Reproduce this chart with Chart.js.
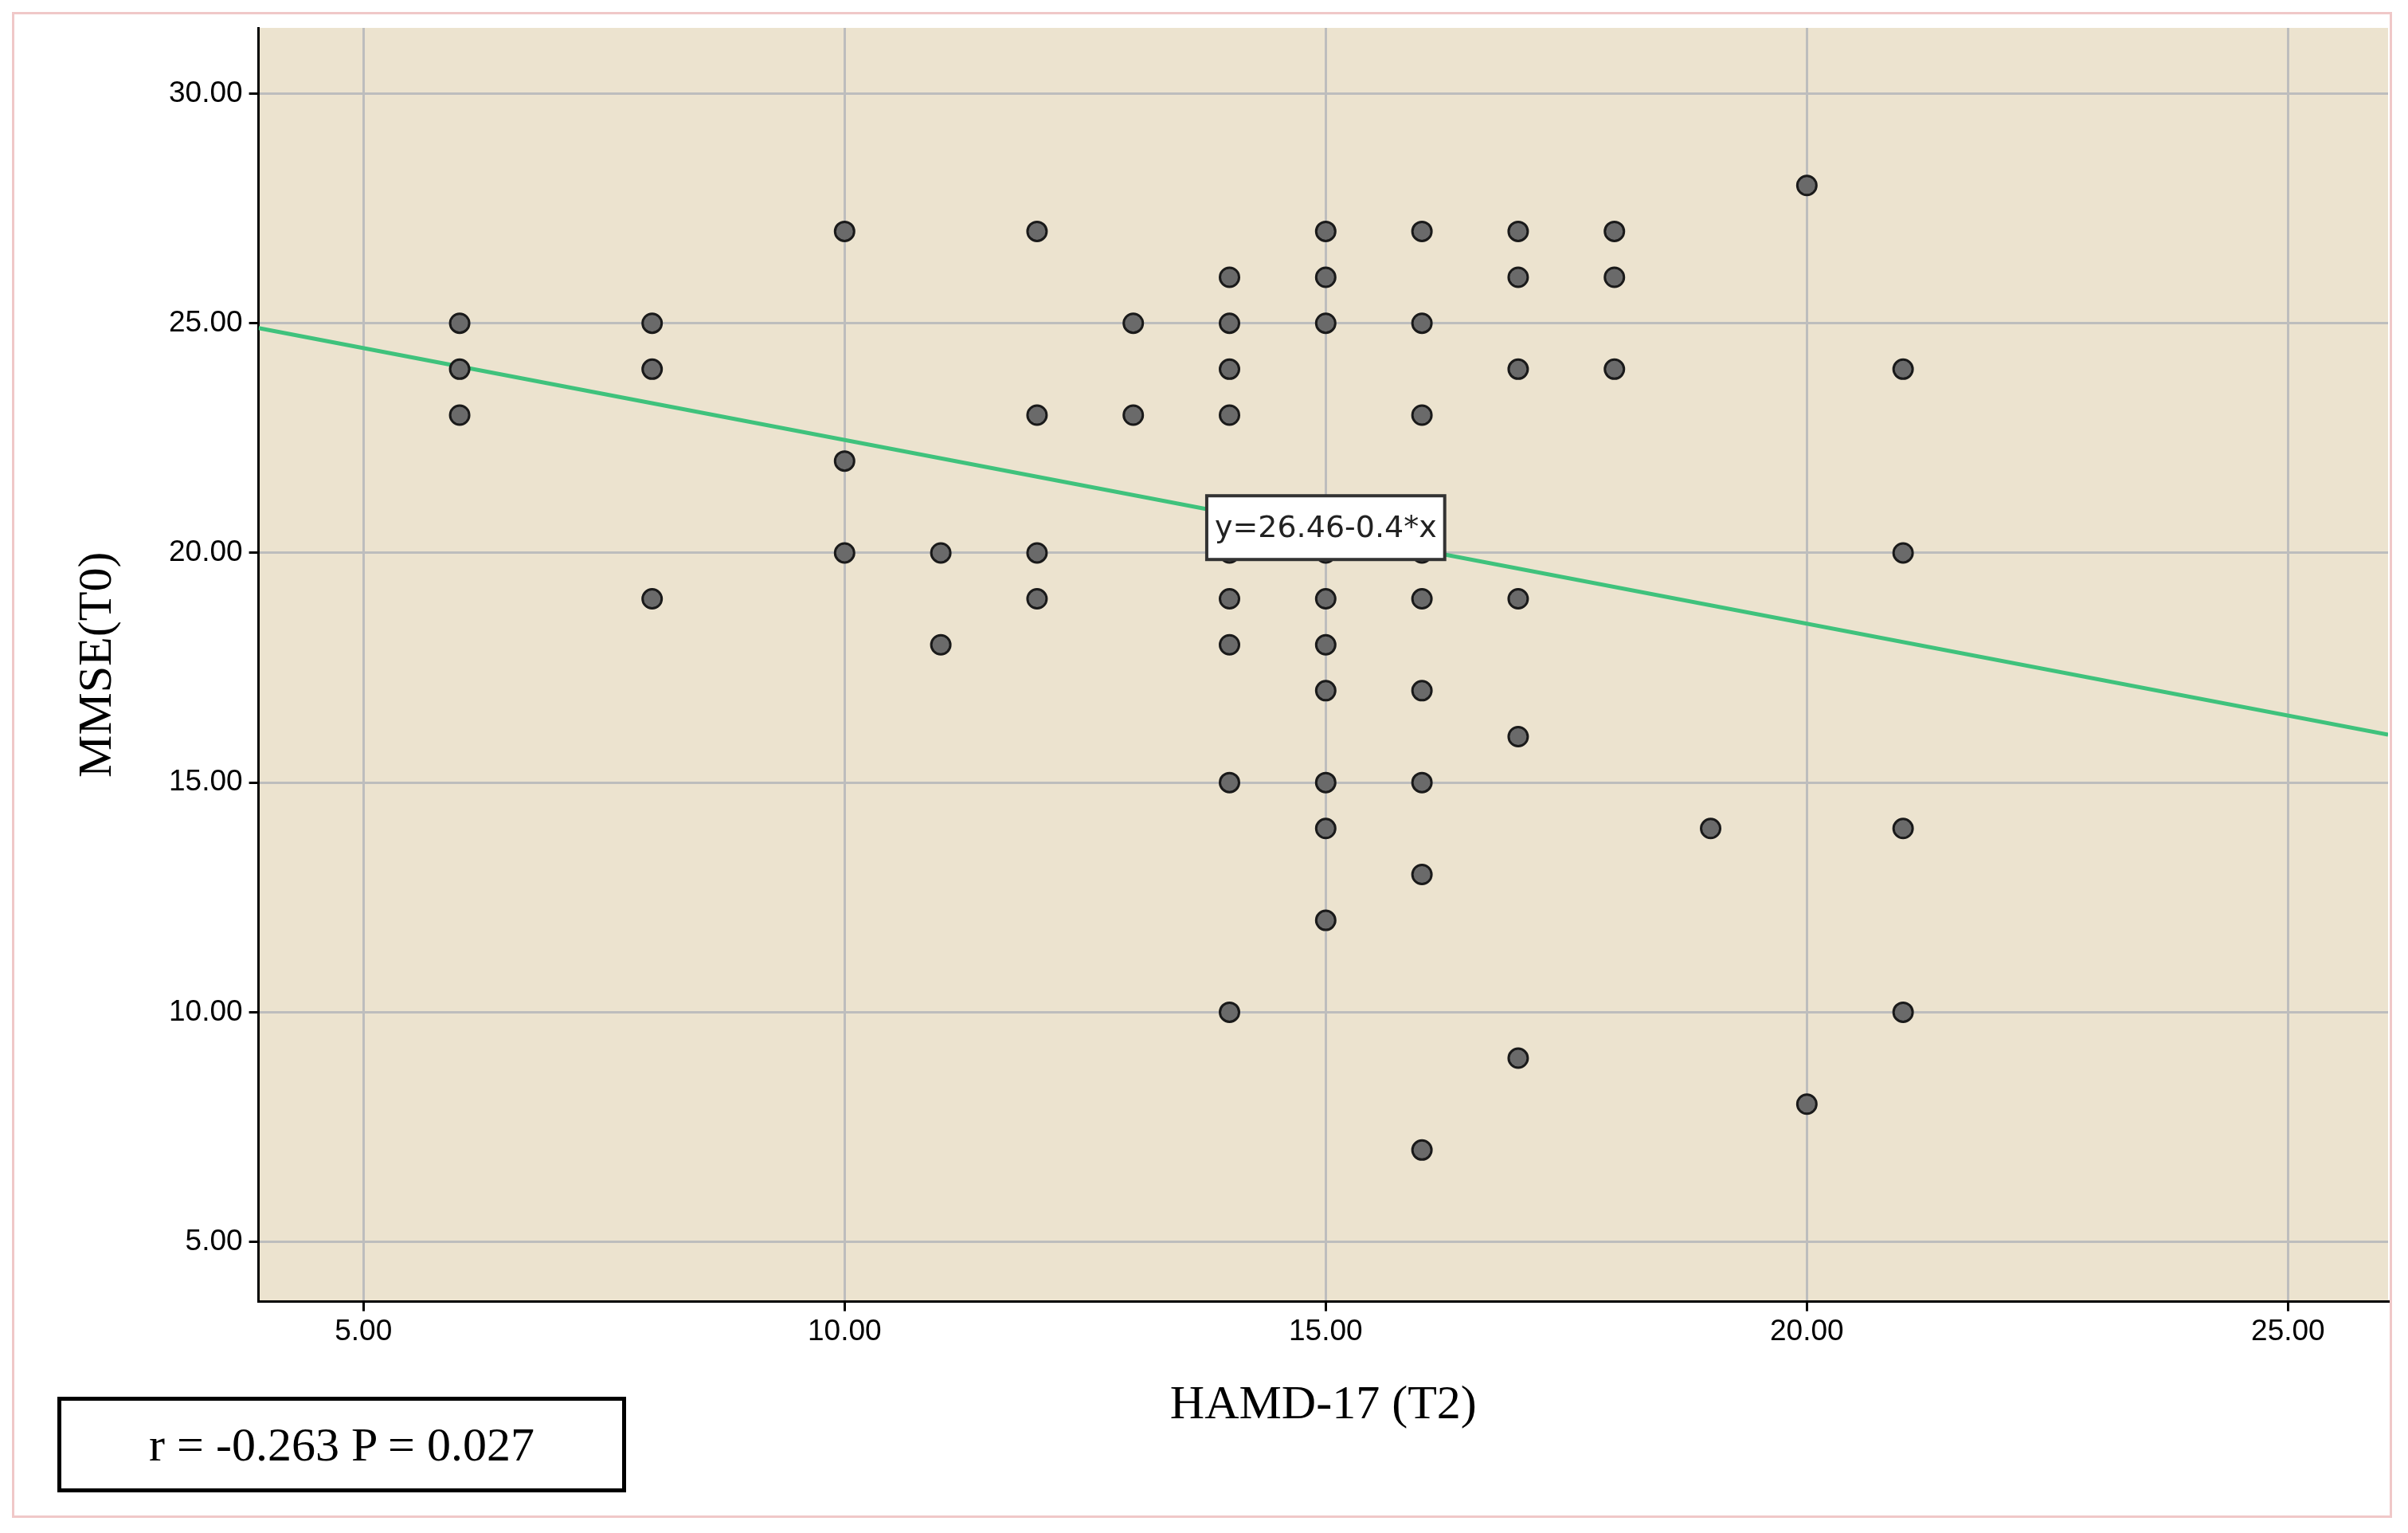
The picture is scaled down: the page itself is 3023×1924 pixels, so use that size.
<!DOCTYPE html>
<html><head><meta charset="utf-8">
<script src="https://cdn.jsdelivr.net/npm/chart.js@4/dist/chart.umd.min.js"></script>
<style>
html,body{margin:0;padding:0;background:#fff;}
#wrap{position:absolute;left:0;top:0;width:3023px;height:1924px;}
#frame{position:absolute;left:15px;top:15px;width:2988px;height:1890px;border:3px solid #f0c8c8;box-sizing:border-box;}
#rbox{position:absolute;left:72px;top:1753px;width:714px;height:120px;border:5px solid #000;box-sizing:border-box;font-family:"Liberation Serif","DejaVu Serif",serif;font-size:60px;line-height:110px;text-align:center;color:#000;}
</style></head>
<body><div id="wrap"><div id="frame"></div><canvas id="c" width="3023" height="1924"></canvas><div id="rbox">r = -0.263 P = 0.027</div></div>
<script>
const hamd = [6,6,6, 8,8,8, 10,10,10, 11,11, 12,12,12,12, 13,13,
 14,14,14,14,14,14,14,14,14,14,
 15,15,15,15,15,15,15,15,15,15,15,
 16,16,16,16,16,16,16,16,16,16,
 17,17,17,17,17,17, 18,18,18, 19, 20,20, 21,21,21,21];
const mmse = [25,24,23, 25,24,19, 27,22,20, 20,18, 27,23,20,19, 25,23,
 26,25,24,23,21,20,19,18,15,10,
 27,26,25,21,20,19,18,17,15,14,12,
 27,25,23,21,20,19,17,15,13,7,
 27,26,24,19,16,9, 27,26,24, 14, 28,8, 24,20,14,10];
const xTickVals = [5,10,15,20,25];
const yTickVals = [5,10,15,20,25,30];
const fitIntercept = 26.46, fitSlope = -0.4;
const xMin = 3.91, xMax = 26.04, yMin = 3.7, yMax = 31.43;
const fitLabel = "y=26.46-0.4*x";
const points = hamd.map((x,i)=>({x:x,y:mmse[i]}));
const fitLine = [xMin,xMax].map(x=>({x:x,y:fitIntercept+fitSlope*x}));

const bgPlugin = {id:'bg',beforeDraw(ch){const a=ch.chartArea,c=ch.ctx;c.save();c.fillStyle='#ece3cf';c.fillRect(a.left,a.top,a.right-a.left,a.bottom-a.top);c.restore();}};
const labelPlugin = {id:'lbl',afterDraw(ch){const c=ch.ctx;const px=ch.scales.x.getPixelForValue(15),py=ch.scales.y.getPixelForValue(20.55);
 c.save();c.font='38px "DejaVu Sans", sans-serif';const w=c.measureText(fitLabel).width+20,h=80;
 c.fillStyle='#fff';c.fillRect(px-w/2,py-h/2,w,h);c.strokeStyle='#333';c.lineWidth=4;c.strokeRect(px-w/2,py-h/2,w,h);
 c.fillStyle='#222';c.textAlign='center';c.textBaseline='middle';c.fillText(fitLabel,px,py+2);c.restore();}};
new Chart(document.getElementById('c'),{
 type:'scatter',
 data:{datasets:[
  {data:fitLine,type:'line',borderColor:'#3fc27c',borderWidth:5,pointRadius:0,order:2},
  {data:points,backgroundColor:'#6a6a6a',borderColor:'#1a1a1a',borderWidth:3,pointRadius:12,order:1}
 ]},
 options:{responsive:false,animation:false,
  layout:{padding:{left:83,top:35,right:25,bottom:120}},
  plugins:{legend:{display:false},tooltip:{enabled:false}},
  scales:{
   x:{type:'linear',min:xMin,max:xMax,afterBuildTicks:s=>{s.ticks=xTickVals.map(v=>({value:v}));},
     grid:{color:'#bdbdbd',lineWidth:3,drawTicks:true,tickLength:12,tickColor:'#000'},border:{color:'#000',width:3},
     ticks:{autoSkip:false,color:'#000',font:{size:37,family:'Arial, "Liberation Sans", sans-serif'},callback:v=>v.toFixed(2),padding:4},
     title:{display:true,text:'HAMD-17 (T2)',color:'#000',font:{size:60,family:'"Liberation Serif", serif'},padding:{top:30}}},
   y:{type:'linear',min:yMin,max:yMax,afterBuildTicks:s=>{s.ticks=yTickVals.map(v=>({value:v}));},
     grid:{color:'#bdbdbd',lineWidth:3,drawTicks:true,tickLength:12,tickColor:'#000'},border:{color:'#000',width:3},
     ticks:{autoSkip:false,color:'#000',font:{size:37,family:'Arial, "Liberation Sans", sans-serif'},callback:v=>v.toFixed(2),padding:8},
     title:{display:true,text:'MMSE(T0)',color:'#000',font:{size:60,family:'"Liberation Serif", serif'},padding:{bottom:45}}}
  }},
 plugins:[bgPlugin,labelPlugin]
});
</script></body></html>
